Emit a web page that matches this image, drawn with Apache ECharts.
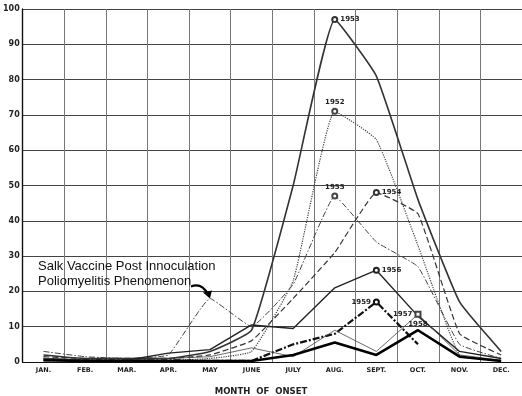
<!DOCTYPE html>
<html><head><meta charset="utf-8">
<script src="https://cdn.jsdelivr.net/npm/echarts@6/dist/echarts.min.js"></script>
<style>html,body{margin:0;padding:0;background:#fff}#c{width:522px;height:396px}</style>
</head><body><div id="c"></div>
<script>
var months = ['JAN.','FEB.','MAR.','APR.','MAY','JUNE','JULY','AUG.','SEPT.','OCT.','NOV.','DEC.'];
var yTicks = [0,10,20,30,40,50,60,70,80,90,100];
var y1953 = [2, 1, 1, 1, 3, 9, 50, 97, 81, 46, 17, 3];
var y1952 = [1, 0.5, 0.5, 0.5, 1, 3, 23, 71, 63, 33, 2, 0.5];
var y1955 = [3, 1.5, 1, 2, 18, 10, 22, 47, 34, 27, 5, 1];
var y1954 = [1.5, 1, 1, 1, 2, 6, 18, 31, 48, 42, 8, 2];
var y1956 = [1, 0.5, 0.5, 2.5, 3.5, 10.5, 9.5, 21, 26, 13, 3, 1];
var y1957 = [1, 0.5, 0.5, 1, 1.5, 4, 1.5, 9, 3, 13.5, 2, 0.5];
var y1958 = [0.5, 0.3, 0.3, 0.3, 0.3, 0.3, 2, 5.5, 2, 9, 1.5, 0.3];
var y1959 = [0.5, 0.5, 0.5, 0.5, 0.3, 0.3, 5, 8, 17, 5, null, null];
var annotation = ['Salk Vaccine Post Innoculation', 'Poliomyelitis Phenomenon'];
var xTitle = 'MONTH  OF  ONSET';

var chart = echarts.init(document.getElementById('c'), null, {renderer:'canvas'});

function mk(name, vals, peak, labelPos, style, smooth, sym, size) {
  var sz = size === undefined ? 5 : size;
  return {
    name: name, type: 'line', smooth: smooth,
    showAllSymbol: true,
    symbol: sym || 'emptyCircle',
    symbolSize: function (v, p) { return p.dataIndex === peak ? sz : 0; },
    lineStyle: style,
    itemStyle: {color: style.color, borderColor: style.color, borderWidth: 0.8},
    connectNulls: false,
    data: vals.map(function (v, i) {
      if (i !== peak) return v;
      return {value: v, label: {show: true, formatter: name, position: labelPos,
        fontSize: 7, fontWeight: 'bold', color: '#222', fontFamily: 'DejaVu Sans', distance: 2}};
    }),
    z: 3
  };
}

var series = [
  mk('1953', y1953, 7, 'right', {color:'#333', width:1.6, type:'solid'}, 0.12),
  mk('1952', y1952, 7, 'top', {color:'#444', width:1.2, type:[1.2,1.2]}, 0.12),
  mk('1955', y1955, 7, 'top', {color:'#444', width:1, type:[6,2,1.5,2]}, 0.1),
  mk('1954', y1954, 8, 'right', {color:'#333', width:1.2, type:[6,3]}, 0.1),
  mk('1956', y1956, 8, 'right', {color:'#222', width:1.4, type:'solid'}, false),
  mk('1959', y1959, 8, 'left', {color:'#111', width:2.2, type:[7,2,2,2]}, false),
  mk('1957', y1957, 9, 'left', {color:'#444', width:0.8, type:'solid'}, false, 'emptyRect', 5),
  mk('1958', y1958, 9, 'top', {color:'#000', width:2.6, type:'solid'}, false, 'circle', 1)
];

chart.setOption({
  animation: false,
  backgroundColor: '#fff',
  grid: {left: 20, top: 9, width: 504, height: 353, containLabel: false},
  xAxis: {
    type: 'category', data: months, boundaryGap: true,
    axisLine: {lineStyle: {color: '#111', width: 1.2}},
    axisTick: {show: false},
    axisLabel: {fontSize: 6.5, fontWeight: 'bold', color: '#222', fontFamily: 'DejaVu Sans', margin: 5, interval: 0},
    splitLine: {show: true, interval: 0, lineStyle: {color: '#777', width: 1}}
  },
  yAxis: {
    type: 'value', min: yTicks[0], max: yTicks[yTicks.length-1], interval: 10,
    axisLine: {show: true, lineStyle: {color: '#111', width: 1.4}},
    axisTick: {show: false},
    axisLabel: {fontSize: 8, fontWeight: 'bold', color: '#222', fontFamily: 'DejaVu Sans', margin: 3},
    splitLine: {show: true, lineStyle: {color: '#444', width: 1}}
  },
  series: series
});

var pk = chart.convertToPixel({xAxisIndex: 0, yAxisIndex: 0}, [months[4], y1955[4]]);
chart.setOption({
  graphic: [
    {type: 'text', left: 38, top: 260, style: {text: annotation[0], font: '13px "Liberation Sans", Arial, sans-serif', fill: '#111'}},
    {type: 'text', left: 38, top: 275, style: {text: annotation[1], font: '13px "Liberation Sans", Arial, sans-serif', fill: '#111'}},
    {type: 'bezierCurve', shape: {x1: pk[0]-19, y1: pk[1]-12, cpx1: pk[0]-8, cpy1: pk[1]-16, x2: pk[0]-2, y2: pk[1]-4}, style: {stroke: '#000', lineWidth: 2.2, fill: null}},
    {type: 'polygon', shape: {points: [[pk[0]-7, pk[1]-6], [pk[0]+2, pk[1]-8], [pk[0], pk[1]]]}, style: {fill: '#000'}},
    {type: 'text', left: 'center', top: 387, style: {text: xTitle, font: 'bold 8.5px "DejaVu Sans", sans-serif', fill: '#222'}}
  ]
});
</script></body></html>
